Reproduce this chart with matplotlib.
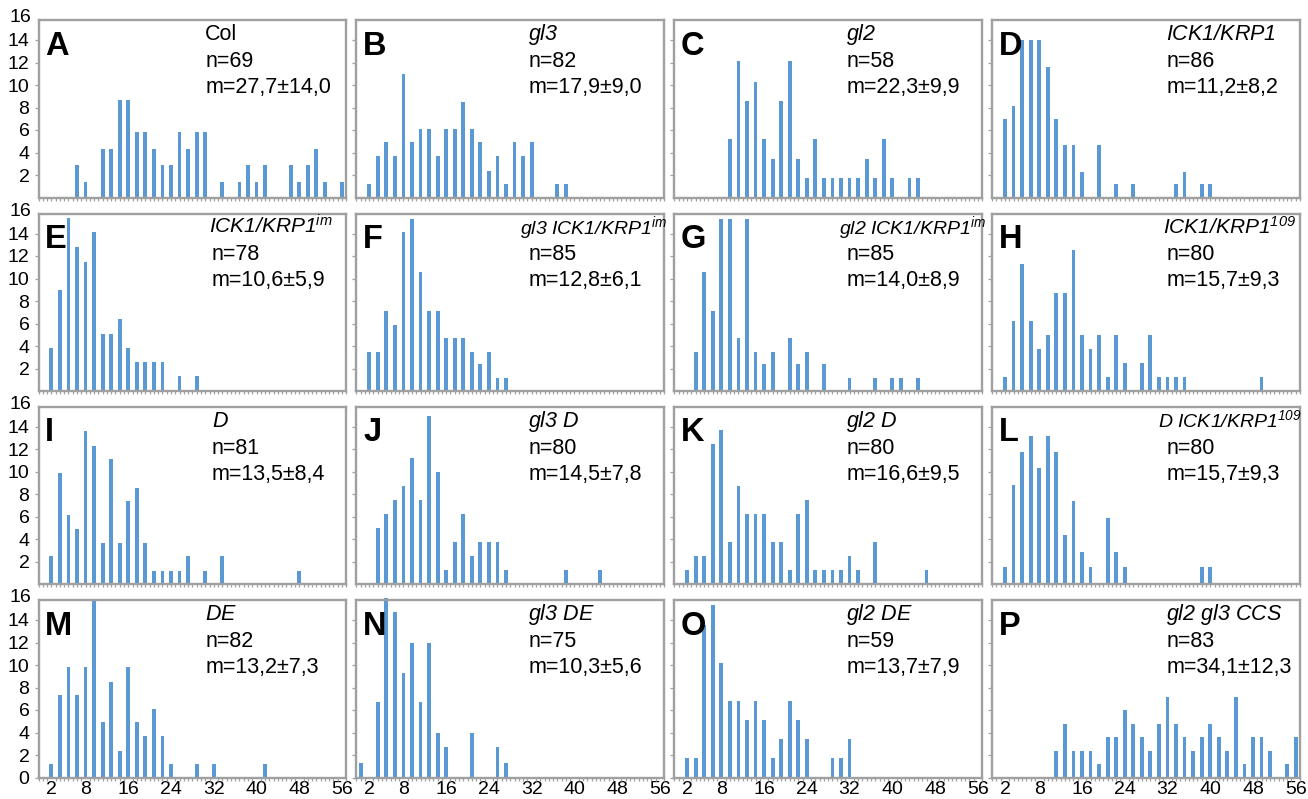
import numpy as np
import matplotlib
matplotlib.use('Agg')
import matplotlib.pyplot as plt
import matplotlib.transforms as mtransforms

plt.rcParams['font.family'] = ['Liberation Sans', 'DejaVu Sans']
plt.rcParams['mathtext.fontset'] = 'custom'
# math text is used only for the italic genotype labels
plt.rcParams['mathtext.rm'] = 'Liberation Sans:italic'
plt.rcParams['mathtext.it'] = 'Liberation Sans:italic'
plt.rcParams['mathtext.bf'] = 'Liberation Sans:bold'

# ---------------- data ----------------
n_bins = 36                                    # category slots on the x axis
xtick_pos = [1, 5, 10, 15, 20, 25, 30, 35]     # category index of each label
xtick_labels = ['2', '8', '16', '24', '32', '40', '48', '56']
ytick_vals = [2, 4, 6, 8, 10, 12, 14]

letters = list('ABCDEFGHIJKLMNOP')
genotypes = ['Col', 'gl3', 'gl2', 'ICK1/KRP1',
             'ICK1/KRP1', 'gl3 ICK1/KRP1', 'gl2 ICK1/KRP1', 'ICK1/KRP1',
             'D', 'gl3 D', 'gl2 D', 'D ICK1/KRP1',
             'DE', 'gl3 DE', 'gl2 DE', 'gl2 gl3 CCS']
superscripts = ['', '', '', '',
                'im', 'im', 'im', '109',
                '', '', '', '109',
                '', '', '', '']
n_values = [69, 82, 58, 86, 78, 85, 85, 80, 81, 80, 80, 80, 82, 75, 59, 83]
means = ['27,7', '17,9', '22,3', '11,2', '10,6', '12,8', '14,0', '15,7',
         '13,5', '14,5', '16,6', '15,7', '13,2', '10,3', '13,7', '34,1']
sds = ['14,0', '9,0', '9,9', '8,2', '5,9', '6,1', '8,9', '9,3',
       '8,4', '7,8', '9,5', '9,3', '7,3', '5,6', '7,9', '12,3']

# bar positions (category index) and heights (%) per panel
A_bins = [4, 5, 7, 8, 9, 10, 11, 12, 13, 14, 15, 16, 17, 18, 19, 21, 23, 24, 25, 26, 29, 30, 31, 32, 33, 35]
A_pct = [2.9, 1.4, 4.3, 4.3, 8.7, 8.7, 5.8, 5.8, 4.3, 2.9, 2.9, 5.8, 4.3, 5.8, 5.8, 1.4, 1.4, 2.9, 1.4, 2.9, 2.9, 1.4, 2.9, 4.3, 1.4, 1.4]
B_bins = [1, 2, 3, 4, 5, 6, 7, 8, 9, 10, 11, 12, 13, 14, 15, 16, 17, 18, 19, 20, 23, 24]
B_pct = [1.2, 3.7, 4.9, 3.7, 11.0, 4.9, 6.1, 6.1, 3.7, 6.1, 6.1, 8.5, 6.1, 4.9, 2.4, 3.7, 1.2, 4.9, 3.7, 4.9, 1.2, 1.2]
C_bins = [6, 7, 8, 9, 10, 11, 12, 13, 14, 15, 16, 17, 18, 19, 20, 21, 22, 23, 24, 25, 27, 28]
C_pct = [5.2, 12.1, 8.6, 10.3, 5.2, 3.4, 8.6, 12.1, 3.4, 1.7, 5.2, 1.7, 1.7, 1.7, 1.7, 1.7, 3.4, 1.7, 5.2, 1.7, 1.7, 1.7]
D_bins = [1, 2, 3, 4, 5, 6, 7, 8, 9, 10, 12, 14, 16, 21, 22, 24, 25]
D_pct = [7.0, 8.1, 14.0, 14.0, 14.0, 11.6, 7.0, 4.7, 4.7, 2.3, 4.7, 1.2, 1.2, 1.2, 2.3, 1.2, 1.2]
E_bins = [1, 2, 3, 4, 5, 6, 7, 8, 9, 10, 11, 12, 13, 14, 16, 18]
E_pct = [3.8, 9.0, 15.4, 12.8, 11.5, 14.1, 5.1, 5.1, 6.4, 3.8, 2.6, 2.6, 2.6, 2.6, 1.3, 1.3]
F_bins = [1, 2, 3, 4, 5, 6, 7, 8, 9, 10, 11, 12, 13, 14, 15, 16, 17]
F_pct = [3.5, 3.5, 7.1, 5.9, 14.1, 15.3, 10.6, 7.1, 7.1, 4.7, 4.7, 4.7, 3.5, 2.4, 3.5, 1.2, 1.2]
G_bins = [2, 3, 4, 5, 6, 7, 8, 9, 10, 11, 13, 14, 15, 17, 20, 23, 25, 26, 28]
G_pct = [3.5, 10.6, 7.1, 15.3, 15.3, 4.7, 15.3, 3.5, 2.4, 3.5, 4.7, 2.4, 3.5, 2.4, 1.2, 1.2, 1.2, 1.2, 1.2]
H_bins = [1, 2, 3, 4, 5, 6, 7, 8, 9, 10, 11, 12, 13, 14, 15, 17, 18, 19, 20, 21, 22, 31]
H_pct = [1.25, 6.25, 11.25, 6.25, 3.75, 5.0, 8.75, 8.75, 12.5, 5.0, 3.75, 5.0, 1.25, 5.0, 2.5, 2.5, 5.0, 1.25, 1.25, 1.25, 1.25, 1.25]
I_bins = [1, 2, 3, 4, 5, 6, 7, 8, 9, 10, 11, 12, 13, 14, 15, 16, 17, 19, 21, 30]
I_pct = [2.5, 9.9, 6.2, 4.9, 13.6, 12.3, 3.7, 11.1, 3.7, 7.4, 8.6, 3.7, 1.2, 1.2, 1.2, 1.2, 2.5, 1.2, 2.5, 1.2]
J_bins = [2, 3, 4, 5, 6, 7, 8, 9, 10, 11, 12, 13, 14, 15, 16, 17, 24, 28]
J_pct = [5.0, 6.25, 7.5, 8.75, 11.25, 7.5, 15.0, 10.0, 1.25, 3.75, 6.25, 2.5, 3.75, 3.75, 3.75, 1.25, 1.25, 1.25]
K_bins = [1, 2, 3, 4, 5, 6, 7, 8, 9, 10, 11, 12, 13, 14, 15, 16, 17, 18, 19, 20, 21, 23, 29]
K_pct = [1.25, 2.5, 2.5, 12.5, 13.75, 3.75, 8.75, 6.25, 6.25, 6.25, 3.75, 3.75, 1.25, 6.25, 7.5, 1.25, 1.25, 1.25, 1.25, 2.5, 1.25, 3.75, 1.25]
L_bins = [1, 2, 3, 4, 5, 6, 7, 8, 9, 10, 11, 13, 14, 15, 24, 25]
L_pct = [1.5, 8.8, 11.8, 13.2, 10.3, 13.2, 11.8, 4.4, 7.4, 2.9, 1.5, 5.9, 2.9, 1.5, 1.5, 1.5]
M_bins = [1, 2, 3, 4, 5, 6, 7, 8, 9, 10, 11, 12, 13, 14, 15, 18, 20, 26]
M_pct = [1.2, 7.3, 9.8, 7.3, 9.8, 15.9, 4.9, 8.5, 2.4, 9.8, 4.9, 3.7, 6.1, 3.7, 1.2, 1.2, 1.2, 1.2]
N_bins = [0, 2, 3, 4, 5, 6, 7, 8, 9, 10, 13, 16, 17]
N_pct = [1.3, 6.7, 16.0, 14.7, 9.3, 12.0, 6.7, 12.0, 4.0, 2.7, 4.0, 2.7, 1.3]
O_bins = [1, 2, 3, 4, 5, 6, 7, 8, 9, 10, 11, 12, 13, 14, 15, 18, 19, 20]
O_pct = [1.7, 1.7, 13.6, 15.3, 10.2, 6.8, 6.8, 5.1, 6.8, 5.1, 1.7, 3.4, 6.8, 5.1, 3.4, 1.7, 1.7, 3.4]
P_bins = [7, 8, 9, 10, 11, 12, 13, 14, 15, 16, 17, 18, 19, 20, 21, 22, 23, 24, 25, 26, 27, 28, 29, 30, 31, 32, 34, 35]
P_pct = [2.4, 4.8, 2.4, 2.4, 2.4, 1.2, 3.6, 3.6, 6.0, 4.8, 3.6, 2.4, 4.8, 7.2, 4.8, 3.6, 2.4, 3.6, 4.8, 3.6, 2.4, 7.2, 1.2, 3.6, 3.6, 2.4, 1.2, 3.6]

panel_bins = [A_bins, B_bins, C_bins, D_bins, E_bins, F_bins, G_bins, H_bins,
              I_bins, J_bins, K_bins, L_bins, M_bins, N_bins, O_bins, P_bins]
panel_pct = [A_pct, B_pct, C_pct, D_pct, E_pct, F_pct, G_pct, H_pct,
             I_pct, J_pct, K_pct, L_pct, M_pct, N_pct, O_pct, P_pct]

# ---------------- style / layout ----------------
W, H = 1308, 799
BAR = '#5b99d5'
FRAME = '#a0a0a0'
col_left = [38.5, 356.4, 674.3, 992.2]
col_w = 307.8
row_zero = [197.5, 391.0, 584.3, 777.5]
px_per_unit = 11.25
ytop = 15.75
text_x = [0.542, 0.558, 0.559, 0.565,
          0.563, 0.558, 0.559, 0.565,
          0.563, 0.558, 0.559, 0.565,
          0.542, 0.558, 0.559, 0.565]
TXT = 15.5
TICK = 14

fig = plt.figure(figsize=(W / 100, H / 100), dpi=100)

for i in range(16):
    r, c = divmod(i, 4)
    ax = fig.add_axes([col_left[c] / W, (H - row_zero[r]) / H,
                       col_w / W, ytop * px_per_unit / H])
    ax.bar(panel_bins[i], panel_pct[i], width=0.44, color=BAR,
           clip_on=False, zorder=2)
    ax.set_xlim(-0.5, n_bins - 0.5)
    ax.set_ylim(0, ytop)
    for s in ax.spines.values():
        s.set_color(FRAME)
        s.set_linewidth(1.7)
    ax.set_xticks(np.arange(-0.5, n_bins - 0.49, 0.5), minor=True)
    ax.tick_params(axis='x', which='minor', length=2.5, width=0.9,
                   color=FRAME, direction='out')
    ax.tick_params(axis='x', which='major', length=0, pad=2.5,
                   labelsize=TICK)
    if r == 3:
        ax.set_xticks(xtick_pos)
        ax.set_xticklabels(xtick_labels)
    else:
        ax.set_xticks([])
    yt = ytick_vals if r < 3 else [0] + ytick_vals
    ax.set_yticks(yt)
    ax.tick_params(axis='y', length=3, width=0.9, color=FRAME,
                   direction='out', pad=3.5, labelsize=TICK)
    if c == 0:
        trans = mtransforms.blended_transform_factory(ax.transAxes, ax.transData)
        ax.text(-0.024, 16, '16', transform=trans, ha='right', va='center',
                fontsize=TICK)
    else:
        ax.set_yticklabels([])

    # panel letter
    ax.text(0.022, 0.806, letters[i], transform=ax.transAxes, fontsize=23.5,
            fontweight='bold', ha='left', va='baseline', zorder=5)
    # genotype label
    g = genotypes[i]
    sup = superscripts[i]
    if g == 'Col':
        glabel = g
    else:
        body = g.replace(' ', r'\ ')
        glabel = r'$' + body
        if sup:
            glabel += r'^{' + sup + '}'
        glabel += '$'
    long_label = len(g) + len(sup) >= 13
    if long_label:
        gsize, tx = 14.0, text_x[i] - 0.025
    elif sup:
        gsize, tx = 15.0, text_x[i] - 0.01
    else:
        gsize, tx = TXT, text_x[i]
    ax.text(tx, 0.888, glabel, transform=ax.transAxes, fontsize=gsize,
            ha='left', va='baseline', zorder=5)
    ax.text(text_x[i], 0.738, 'n=%d' % n_values[i], transform=ax.transAxes,
            fontsize=TXT, ha='left', va='baseline', zorder=5)
    ax.text(text_x[i], 0.590, 'm=%s±%s' % (means[i], sds[i]),
            transform=ax.transAxes, fontsize=TXT, ha='left', va='baseline',
            zorder=5)

fig.savefig('out.png', dpi=100)
